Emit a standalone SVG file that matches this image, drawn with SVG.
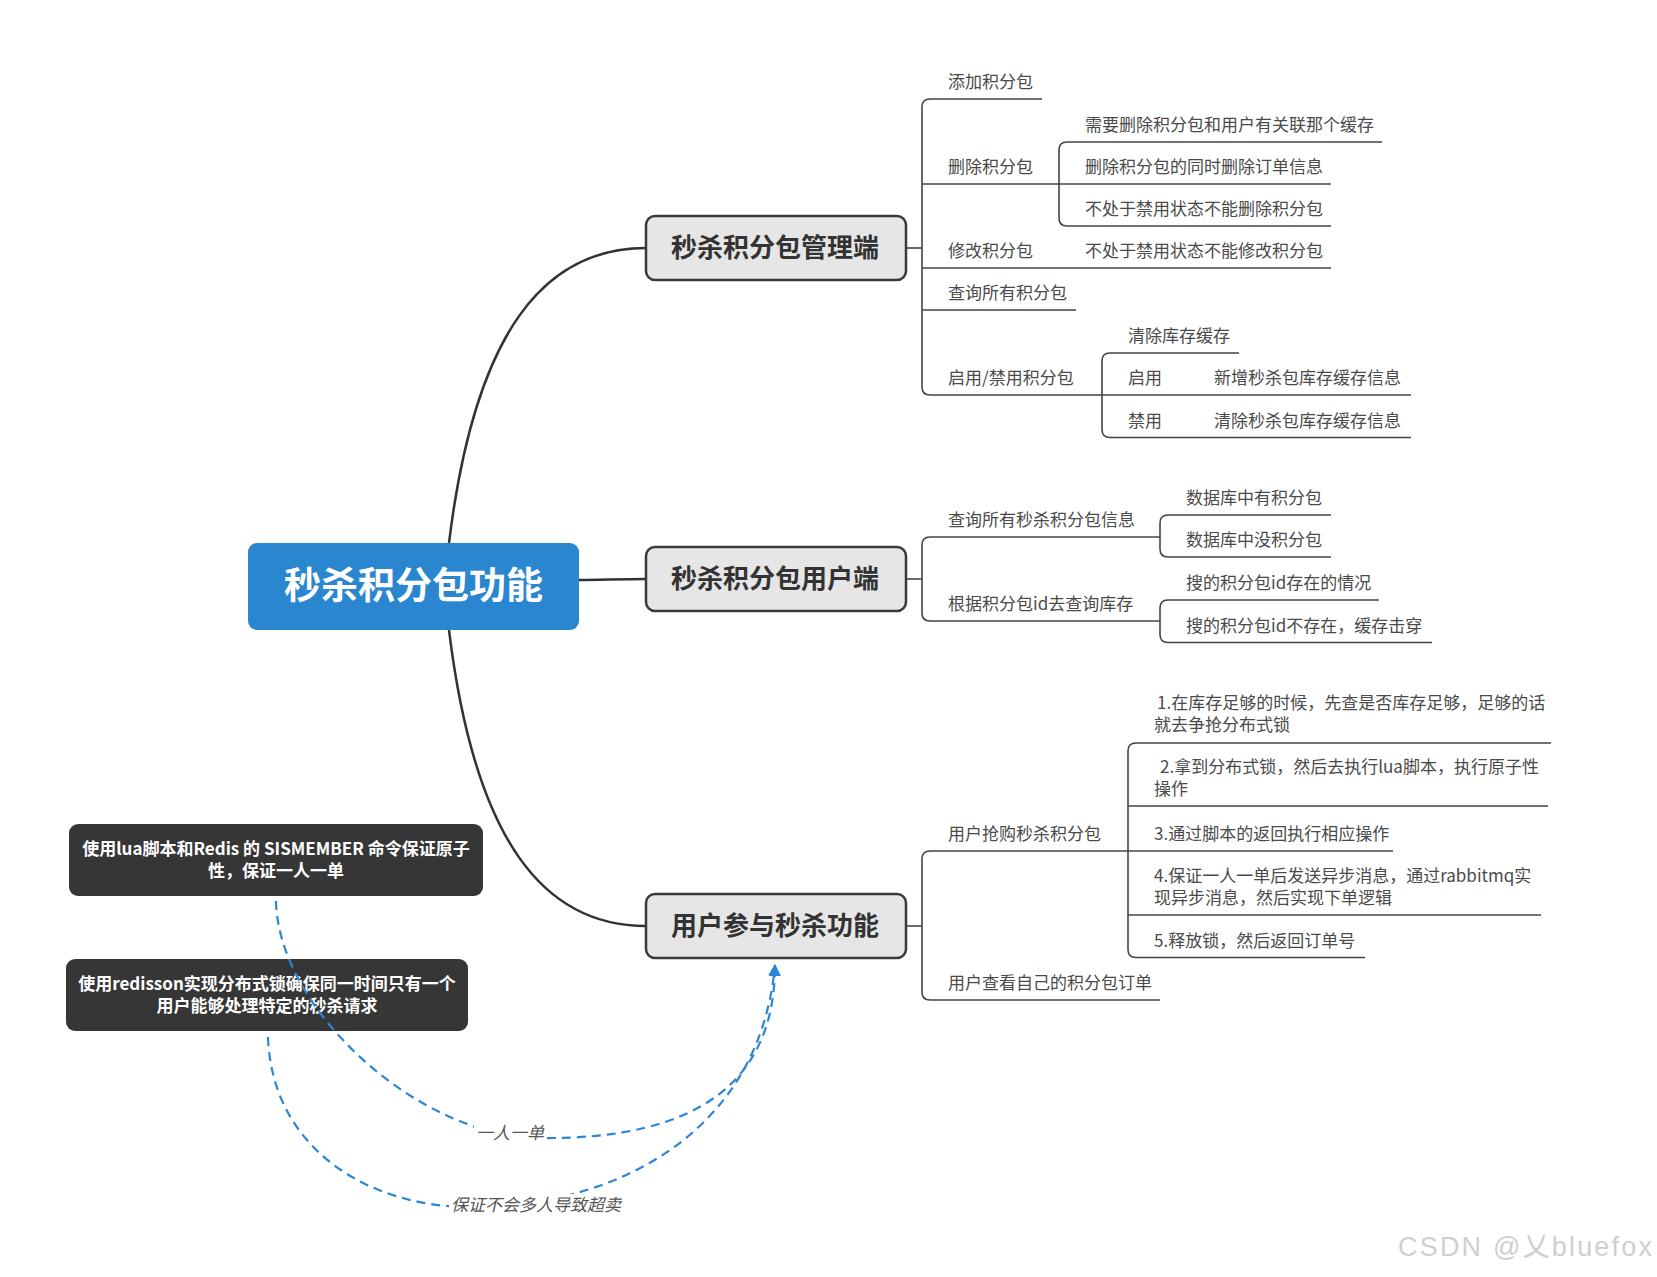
<svg xmlns="http://www.w3.org/2000/svg" width="1657" height="1277" viewBox="0 0 1657 1277">
  <defs>
    <style>
      .t { font-family: "Noto Sans CJK SC", "Noto Sans", sans-serif; font-size: 17px; fill: #4a4a4a; }
      .main { font-family: "Noto Sans CJK SC", sans-serif; font-size: 26px; font-weight: bold; fill: #333333; text-anchor: middle; }
      .mainbox { fill: #e6e6e6; stroke: #3a3a3a; stroke-width: 2.5; }
      .dark { fill: #363636; }
      .darkt { font-family: "Noto Sans CJK SC", sans-serif; font-size: 17px; font-weight: bold; fill: #ffffff; text-anchor: middle; }
      .trunk { fill: none; stroke: #333333; stroke-width: 2.5; }
      .br { fill: none; stroke: #444444; stroke-width: 1.6; }
      .rel { fill: none; stroke: #2b86d6; stroke-width: 2.2; stroke-dasharray: 9 6; }
      .lbl { font-family: "Noto Sans CJK SC", sans-serif; font-size: 17px; font-style: italic; fill: #555555; }
    </style>
    <marker id="arr" viewBox="0 0 12 12" markerWidth="12" markerHeight="12" refX="11" refY="6" orient="auto" markerUnits="userSpaceOnUse">
      <path d="M0,0 L12,6 L0,12 z" fill="#2b86d6"/>
    </marker>
  </defs>
  <rect width="1657" height="1277" fill="#ffffff"/>

  <g id="connectors">
    <!-- trunks from central node -->
    <path class="trunk" d="M449,543 C475,330 545,248 646,248"/>
    <path class="trunk" d="M579,580 C600,580 620,579 646,579"/>
    <path class="trunk" d="M449,630 C475,843 545,926 646,926"/>
    <!-- management branch -->
    <path class="br" d="M906,248 H922"/>
    <path class="br" d="M1042,99 H930 Q922,99 922,107 V387 Q922,395 930,395 H1102"/>
    <path class="br" d="M922,184 H1059"/>
    <path class="br" d="M922,268 H1331"/>
    <path class="br" d="M922,310 H1076"/>
    <path class="br" d="M1382,142 H1067 Q1059,142 1059,150 V218 Q1059,226 1067,226 H1331"/>
    <path class="br" d="M1059,184 H1331"/>
    <path class="br" d="M1239,353 H1110 Q1102,353 1102,361 V429.5 Q1102,437.5 1110,437.5 H1411"/>
    <path class="br" d="M1102,395 H1411"/>
    <!-- user branch -->
    <path class="br" d="M906,579 H922"/>
    <path class="br" d="M1160,537 H930 Q922,537 922,545 V613 Q922,621 930,621 H1160"/>
    <path class="br" d="M1331,515 H1168 Q1160,515 1160,523 V549 Q1160,557 1168,557 H1331"/>
    <path class="br" d="M1379,600 H1168 Q1160,600 1160,608 V634.5 Q1160,642.5 1168,642.5 H1432"/>
    <!-- participation branch -->
    <path class="br" d="M906,926 H922"/>
    <path class="br" d="M1128,851 H930 Q922,851 922,859 V992 Q922,1000 930,1000 H1160"/>
    <path class="br" d="M1551,743 H1136 Q1128,743 1128,751 V949.5 Q1128,957.5 1136,957.5 H1365"/>
    <path class="br" d="M1128,806 H1548"/>
    <path class="br" d="M1128,851 H1393"/>
    <path class="br" d="M1128,915 H1541"/>
  </g>

  <g id="node-center">
    <rect x="248" y="543" width="331" height="87" rx="9" fill="#2b86d0"/>
    <text x="413.5" y="599" font-family="Noto Sans CJK SC, sans-serif" font-size="37" font-weight="bold" fill="#ffffff" text-anchor="middle">秒杀积分包功能</text>
  </g>

  <g id="node-admin">
    <rect class="mainbox" x="646" y="216" width="260" height="64" rx="9"/>
    <text class="main" x="775" y="257">秒杀积分包管理端</text>
  </g>
  <g id="node-user">
    <rect class="mainbox" x="646" y="547" width="260" height="64" rx="9"/>
    <text class="main" x="775" y="588">秒杀积分包用户端</text>
  </g>
  <g id="node-join">
    <rect class="mainbox" x="646" y="894" width="260" height="64" rx="9"/>
    <text class="main" x="775" y="935">用户参与秒杀功能</text>
  </g>

  <g id="node-lua">
    <rect class="dark" x="69" y="824" width="414" height="72" rx="9"/>
    <text class="darkt" x="276" y="855">使用lua脚本和Redis 的 SISMEMBER 命令保证原子</text>
    <text class="darkt" x="276" y="877">性，保证一人一单</text>
  </g>
  <g id="node-redisson">
    <rect class="dark" x="66" y="959" width="402" height="72" rx="9"/>
    <text class="darkt" x="267" y="990">使用redisson实现分布式锁确保同一时间只有一个</text>
    <text class="darkt" x="267" y="1012">用户能够处理特定的秒杀请求</text>
  </g>

  <g id="relations">
    <path class="rel" d="M276,901 C278,1010 420,1138 540,1138 C700,1140 775,1080 775,965" marker-end="url(#arr)"/>
    <path class="rel" d="M268,1037 C272,1150 370,1207 470,1207 C620,1207 760,1130 775,965" marker-end="url(#arr)"/>
    <rect x="474" y="1122" width="73" height="22" fill="#ffffff"/>
    <rect x="449" y="1194" width="172" height="22" fill="#ffffff"/>
    <text class="lbl" x="476" y="1139">一人一单</text>
    <text class="lbl" x="451" y="1211">保证不会多人导致超卖</text>
  </g>

  <g id="node-add"><text class="t" x="948" y="88">添加积分包</text></g>
  <g id="node-delete"><text class="t" x="948" y="173">删除积分包</text></g>
  <g id="node-delete-1"><text class="t" x="1085" y="131">需要删除积分包和用户有关联那个缓存</text></g>
  <g id="node-delete-2"><text class="t" x="1085" y="173">删除积分包的同时删除订单信息</text></g>
  <g id="node-delete-3"><text class="t" x="1085" y="215">不处于禁用状态不能删除积分包</text></g>
  <g id="node-modify"><text class="t" x="948" y="257">修改积分包</text></g>
  <g id="node-modify-1"><text class="t" x="1085" y="257">不处于禁用状态不能修改积分包</text></g>
  <g id="node-query"><text class="t" x="948" y="299">查询所有积分包</text></g>
  <g id="node-toggle"><text class="t" x="948" y="384">启用/禁用积分包</text></g>
  <g id="node-toggle-1"><text class="t" x="1128" y="342">清除库存缓存</text></g>
  <g id="node-enable"><text class="t" x="1128" y="384">启用</text></g>
  <g id="node-enable-1"><text class="t" x="1214" y="384">新增秒杀包库存缓存信息</text></g>
  <g id="node-disable"><text class="t" x="1128" y="426.5">禁用</text></g>
  <g id="node-disable-1"><text class="t" x="1214" y="426.5">清除秒杀包库存缓存信息</text></g>

  <g id="node-query-all"><text class="t" x="948" y="526">查询所有秒杀积分包信息</text></g>
  <g id="node-db-has"><text class="t" x="1186" y="504">数据库中有积分包</text></g>
  <g id="node-db-none"><text class="t" x="1186" y="546">数据库中没积分包</text></g>
  <g id="node-query-id"><text class="t" x="948" y="610">根据积分包id去查询库存</text></g>
  <g id="node-id-exist"><text class="t" x="1186" y="589">搜的积分包id存在的情况</text></g>
  <g id="node-id-missing"><text class="t" x="1186" y="631.5">搜的积分包id不存在，缓存击穿</text></g>

  <g id="node-buy"><text class="t" x="948" y="840">用户抢购秒杀积分包</text></g>
  <g id="node-step1">
    <text class="t" x="1157" y="709">1.在库存足够的时候，先查是否库存足够，足够的话</text>
    <text class="t" x="1154" y="731">就去争抢分布式锁</text>
  </g>
  <g id="node-step2">
    <text class="t" x="1160" y="773">2.拿到分布式锁，然后去执行lua脚本，执行原子性</text>
    <text class="t" x="1154" y="795">操作</text>
  </g>
  <g id="node-step3"><text class="t" x="1154" y="840">3.通过脚本的返回执行相应操作</text></g>
  <g id="node-step4">
    <text class="t" x="1154" y="882">4.保证一人一单后发送异步消息，通过rabbitmq实</text>
    <text class="t" x="1154" y="904">现异步消息，然后实现下单逻辑</text>
  </g>
  <g id="node-step5"><text class="t" x="1154" y="946.5">5.释放锁，然后返回订单号</text></g>
  <g id="node-orders"><text class="t" x="948" y="989">用户查看自己的积分包订单</text></g>

  <text x="1398" y="1256" font-family="Liberation Sans, Noto Sans CJK SC, sans-serif" font-size="27" fill="#cfcfcf" textLength="254" lengthAdjust="spacing">CSDN @乂bluefox</text>
</svg>
